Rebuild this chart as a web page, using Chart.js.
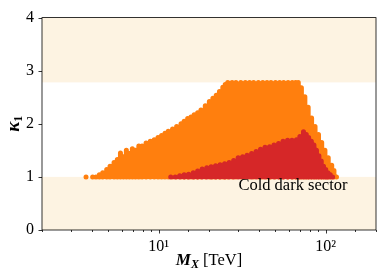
<!DOCTYPE html>
<html>
<head>
<meta charset="utf-8">
<script src="https://cdn.jsdelivr.net/npm/chart.js@4.4.0/dist/chart.umd.min.js"></script>
<style>
  html, body { margin: 0; padding: 0; background: #fff; }
  canvas { display: block; }
</style>
</head>
<body>
<canvas id="chart" width="386" height="280"></canvas>
<script>
// every column of points starts at kappa_1 = 1 and goes up to the listed value
const kappaFloor = 1;

const orangeMass = [3.67, 4.02, 4.21, 4.41, 4.62, 4.88, 5.11, 5.4, 5.65, 5.9, 6.15, 6.4,
  6.67, 6.95, 7.25, 7.6, 7.95, 8.4, 8.9, 9.4, 9.9, 10.4, 10.9, 11.4, 12.1, 12.8, 13.6,
  14.2, 14.9, 15.6, 16.3, 17.1, 17.9, 19.0, 20.1, 21.1, 22.1, 23.1, 24.2, 25.0, 25.9,
  27.5, 29, 31, 33, 35, 37, 39.5, 42, 44.5, 47, 50, 53, 56, 59.5, 63, 66, 68.5, 71.5,
  75, 78.5, 82.3, 86.3, 90.5, 94.6, 98.9, 103.5, 108.6, 112, 116];
const orangeKappa = [1.0, 1.0, 1.0, 1.04, 1.08, 1.14, 1.2, 1.27, 1.33, 1.45, 1.38, 1.5,
  1.44, 1.53, 1.5, 1.58, 1.58, 1.64, 1.67, 1.7, 1.74, 1.78, 1.82, 1.86, 1.9, 1.95, 2.0,
  2.05, 2.1, 2.13, 2.17, 2.21, 2.26, 2.34, 2.42, 2.48, 2.54, 2.61, 2.69, 2.74, 2.78,
  2.78, 2.78, 2.78, 2.78, 2.78, 2.78, 2.78, 2.78, 2.78, 2.78, 2.78, 2.78, 2.78, 2.78, 2.78, 2.78, 2.78, 2.68,
  2.51, 2.31, 2.11, 1.95, 1.8, 1.65, 1.5, 1.36, 1.22, 1.12, 1.0];

const redMass = [11.8, 12.55, 13.35, 14.2, 15.1, 16.1, 17.1, 18.2, 19.4, 20.6, 21.9, 23.3,
  24.8, 26.4, 28.1, 29.9, 31.8, 33.8, 36.0, 38.3, 40.7, 43.3, 46.1, 49.0, 52.2, 55.5,
  59.1, 62.8, 66.8, 70.0, 73.6, 76.5, 79.0, 82.0, 85.0, 88.0, 91.0, 94.0, 97.0, 100,
  103, 106.5, 110];
const redKappa = [1.0, 1.0, 1.02, 1.04, 1.05, 1.08, 1.11, 1.15, 1.17, 1.19, 1.21, 1.23,
  1.25, 1.27, 1.31, 1.36, 1.38, 1.41, 1.44, 1.48, 1.52, 1.56, 1.57, 1.6, 1.63, 1.67,
  1.69, 1.69, 1.7, 1.76, 1.85, 1.8, 1.74, 1.67, 1.6, 1.5, 1.4, 1.3, 1.2, 1.14,
  1.08, 1.04, 1.0];

const excludedBands = [[0, 1], [2.78, 4]];
const massTickLabels = { 10: "10\u00B9", 100: "10\u00B2" };
const note = { text: "Cold dark sector", x: 30, y: 0.75 };

const serif = '"Liberation Serif", "DejaVu Serif", serif';

function columns(masses, tops) {
  const pts = [];
  masses.forEach((m, i) => {
    pts.push({ x: m, y: kappaFloor }, { x: m, y: tops[i] }, { x: m, y: null });
  });
  return pts;
}

function drawPieces(ctx, pieces, x, y) {
  let w = 0;
  pieces.forEach(p => { ctx.font = p.font; w += ctx.measureText(p.text).width; });
  let cx = x - w / 2;
  pieces.forEach(p => {
    ctx.font = p.font;
    ctx.fillText(p.text, cx, y + (p.dy || 0));
    cx += ctx.measureText(p.text).width;
  });
}

const decor = {
  id: "decor",
  beforeDatasetsDraw(chart) {
    const { ctx, chartArea: a, scales: { y } } = chart;
    ctx.save();
    ctx.fillStyle = "#fdf3e2";
    excludedBands.forEach(([lo, hi]) => {
      const top = y.getPixelForValue(hi);
      const bot = y.getPixelForValue(lo);
      ctx.fillRect(a.left, top, a.right - a.left, bot - top);
    });
    ctx.restore();
  },
  afterDatasetsDraw(chart) {
    const { ctx, chartArea: a, scales: { x, y } } = chart;
    ctx.save();
    ctx.fillStyle = "#000";
    ctx.font = "16.5px " + serif;
    ctx.textAlign = "left";
    ctx.textBaseline = "alphabetic";
    ctx.fillText(note.text, x.getPixelForValue(note.x), y.getPixelForValue(note.y));

    // frame
    ctx.strokeStyle = "#000";
    ctx.lineWidth = 0.8;
    ctx.strokeRect(a.left, a.top, a.right - a.left, a.bottom - a.top);

    // tick marks
    ctx.beginPath();
    x.ticks.forEach(t => {
      const px = Math.round(x.getPixelForValue(t.value)) + 0.5;
      const len = massTickLabels[t.value] ? 3.5 : 2;
      ctx.moveTo(px, a.bottom);
      ctx.lineTo(px, a.bottom + len);
    });
    y.ticks.forEach(t => {
      const py = Math.round(y.getPixelForValue(t.value)) + 0.5;
      ctx.moveTo(a.left, py);
      ctx.lineTo(a.left - 3.5, py);
    });
    ctx.stroke();

    // axis titles
    drawPieces(ctx, [
      { text: "M", font: "italic bold 17px " + serif },
      { text: "X", font: "italic bold 12px " + serif, dy: 3 },
      { text: " [TeV]", font: "16.5px " + serif }
    ], (a.left + a.right) / 2, 265);

    ctx.translate(19, (a.top + a.bottom) / 2);
    ctx.rotate(-Math.PI / 2);
    drawPieces(ctx, [
      { text: "\u03BA", font: "italic bold 19px " + serif },
      { text: "1", font: "bold 12px " + serif, dy: 3 }
    ], 0, 0);
    ctx.restore();
  }
};

const lineStyle = {
  showLine: true,
  borderWidth: 5,
  borderCapStyle: "round",
  pointRadius: 0,
  pointHoverRadius: 0,
  fill: false,
  spanGaps: false,
  tension: 0
};

new Chart(document.getElementById("chart"), {
  type: "line",
  data: {
    datasets: [
      Object.assign({ label: "cold", data: columns(redMass, redKappa), borderColor: "#d62728", order: 0 }, lineStyle),
      Object.assign({ label: "all", data: columns(orangeMass, orangeKappa), borderColor: "#ff7f0e", order: 1 }, lineStyle)
    ]
  },
  options: {
    responsive: false,
    animation: false,
    events: [],
    layout: { padding: { left: 0, top: 12, right: 10, bottom: 0 } },
    plugins: { legend: { display: false }, tooltip: { enabled: false } },
    scales: {
      x: {
        type: "logarithmic",
        min: 2,
        max: 200,
        grid: { drawOnChartArea: false, drawTicks: false },
        border: { display: false },
        ticks: {
          autoSkip: false,
          maxRotation: 0,
          padding: 7,
          color: "#000",
          font: { family: serif, size: 16 },
          callback: v => massTickLabels[v] || ""
        },
        afterFit: s => { s.height = 50; }
      },
      y: {
        min: 0,
        max: 4,
        grid: { drawOnChartArea: false, drawTicks: false },
        border: { display: false },
        ticks: {
          stepSize: 1,
          padding: 8,
          color: "#000",
          font: { family: serif, size: 16 }
        },
        afterFit: s => { s.width = 42; }
      }
    }
  },
  plugins: [decor]
});
</script>
</body>
</html>
